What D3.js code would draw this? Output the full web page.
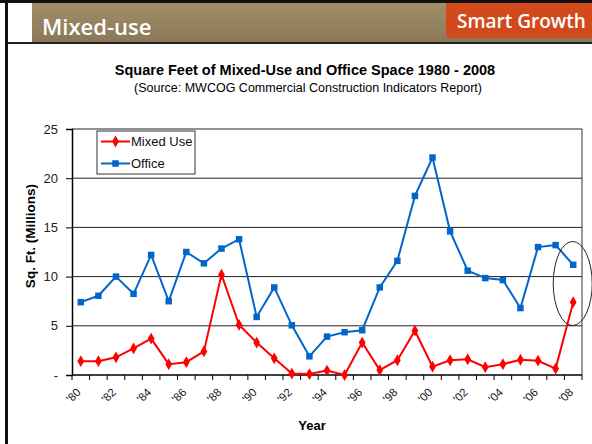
<!DOCTYPE html>
<html>
<head>
<meta charset="utf-8">
<script src="https://cdn.jsdelivr.net/npm/d3@7"></script>
<style>
  body { margin: 0; background: #fff; }
  svg { display: block; }
</style>
</head>
<body>
<svg id="chart" width="592" height="444"></svg>
<script>
// Years 1980 - 2008
const years = d3.range(1980, 2009);
const yTicks = [0, 5, 10, 15, 20, 25];

// Square feet (millions)
const mixedUse = [1.4, 1.4, 1.8, 2.7, 3.7, 1.1, 1.3, 2.4, 10.2, 5.1, 3.3, 1.7, 0.15, 0.1,
  0.45, 0.0, 3.3, 0.5, 1.5, 4.5, 0.85, 1.5, 1.6, 0.8, 1.1, 1.55, 1.45, 0.65, 7.4];
const office = [7.4, 8.05, 10.0, 8.25, 12.2, 7.5, 12.5, 11.35, 12.85, 13.8, 5.9, 8.9, 5.05, 1.9,
  3.9, 4.35, 4.55, 8.9, 11.6, 18.2, 22.1, 14.6, 10.6, 9.85, 9.65, 6.8, 13.0, 13.2, 11.2];

const series = [
  { name: "Mixed Use", values: mixedUse, color: "#ff0000", marker: "diamond" },
  { name: "Office", values: office, color: "#0066cc", marker: "square" }
];

const FONT = "Arial, Liberation Sans, sans-serif";
const svg = d3.select("#chart");

// --- slide header ---
const defs = svg.append("defs");
const grad = defs.append("linearGradient").attr("id", "hdr").attr("x1", 0).attr("y1", 0).attr("x2", 0).attr("y2", 1);
grad.append("stop").attr("offset", "0%").attr("stop-color", "#a18e69");
grad.append("stop").attr("offset", "100%").attr("stop-color", "#8a7757");

svg.append("rect").attr("x", 0).attr("y", 0).attr("width", 592).attr("height", 3).attr("fill", "#111");
svg.append("rect").attr("x", 32).attr("y", 3).attr("width", 560).attr("height", 40).attr("fill", "url(#hdr)");
svg.append("rect").attr("x", 5).attr("y", 42).attr("width", 587).attr("height", 2).attr("fill", "#222");
svg.append("rect").attr("x", 5).attr("y", 0).attr("width", 3).attr("height", 444).attr("fill", "#111");

svg.append("text").attr("x", 42).attr("y", 35)
  .attr("font-family", "Open Sans, sans-serif").attr("font-size", 22).attr("font-weight", 600)
  .attr("fill", "#fff").text("Mixed-use");

svg.append("path")
  .attr("d", "M446,3 H592 V38 H451 Q446,38 446,33 Z")
  .attr("fill", "#d24a1c");
svg.append("text").attr("x", 457).attr("y", 28)
  .attr("font-family", "Open Sans, sans-serif").attr("font-size", 19).attr("font-weight", 600)
  .attr("fill", "#fff").text("Smart Growth");

// --- titles ---
svg.append("text").attr("x", 305).attr("y", 75).attr("text-anchor", "middle")
  .attr("font-family", FONT).attr("font-size", 14.5).attr("font-weight", "bold")
  .text("Square Feet of Mixed-Use and Office Space 1980 - 2008");
svg.append("text").attr("x", 308).attr("y", 92).attr("text-anchor", "middle")
  .attr("font-family", FONT).attr("font-size", 12.5)
  .text("(Source: MWCOG Commercial Construction Indicators Report)");

// --- plot area ---
const pLeft = 72, pRight = 582, pTop = 129, pBottom = 375;

const x = d3.scaleBand().domain(years).range([pLeft, pRight]);
const y = d3.scaleLinear().domain([0, 25]).range([pBottom, pTop]);

// gridlines
svg.append("g").selectAll("line").data(yTicks.filter(d => d > 0)).enter().append("line")
  .attr("x1", pLeft).attr("x2", pRight)
  .attr("y1", d => y(d)).attr("y2", d => y(d))
  .attr("stroke", "#222").attr("stroke-width", 1);
svg.append("line").attr("x1", pRight).attr("x2", pRight).attr("y1", pTop).attr("y2", pBottom)
  .attr("stroke", "#333").attr("stroke-width", 1);

// y axis
const yAxis = svg.append("g").attr("transform", `translate(${pLeft},0)`)
  .call(d3.axisLeft(y).tickValues(yTicks).tickSize(6).tickPadding(8)
    .tickFormat(d => d === 0 ? "-" : d));
yAxis.select(".domain").attr("stroke", "#000").attr("stroke-width", 1.5);
yAxis.selectAll("text").attr("font-family", FONT).attr("font-size", 13).attr("fill", "#222");

// x axis: tick marks at band edges, labels on even years
const edges = years.map(d => x(d)).concat([pRight]);
const xg = svg.append("g");
xg.append("line").attr("x1", pLeft).attr("x2", pRight).attr("y1", pBottom).attr("y2", pBottom)
  .attr("stroke", "#000").attr("stroke-width", 1.5);
xg.selectAll("line.tk").data(edges).enter().append("line").attr("class", "tk")
  .attr("x1", d => d).attr("x2", d => d).attr("y1", pBottom).attr("y2", pBottom + 5)
  .attr("stroke", "#000");
xg.selectAll("text").data(years.filter(d => d % 2 === 0)).enter().append("text")
  .attr("transform", d => `translate(${x(d) + x.bandwidth() / 2 - 2},${pBottom + 15}) rotate(-45)`)
  .attr("text-anchor", "end").attr("dy", "0.35em")
  .attr("font-family", FONT).attr("font-size", 11.5).attr("fill", "#222")
  .text(d => "'" + String(d).slice(2));

// axis titles
svg.append("text").attr("x", 312).attr("y", 430).attr("text-anchor", "middle")
  .attr("font-family", FONT).attr("font-size", 13).attr("font-weight", "bold")
  .text("Year");
svg.append("text").attr("transform", "translate(35,236) rotate(-90)").attr("text-anchor", "middle")
  .attr("font-family", FONT).attr("font-size", 13.5).attr("font-weight", "bold")
  .text("Sq. Ft. (Millions)");

// lines and markers
const line = d3.line().x((d, i) => x(years[i]) + x.bandwidth() / 2).y(d => y(d));
const symbolOf = m => m === "diamond" ? d3.symbolDiamond : d3.symbolSquare;

series.forEach(s => {
  svg.append("path").datum(s.values).attr("d", line)
    .attr("fill", "none").attr("stroke", s.color).attr("stroke-width", 2);
  svg.append("g").selectAll("path").data(s.values).enter().append("path")
    .attr("transform", (d, i) => `translate(${x(years[i]) + x.bandwidth() / 2},${y(d)})`)
    .attr("d", d3.symbol().type(symbolOf(s.marker)).size(s.marker === "diamond" ? 40 : 42))
    .attr("fill", s.color);
});

// legend
const lg = svg.append("g");
lg.append("rect").attr("x", 97).attr("y", 131).attr("width", 98).attr("height", 43)
  .attr("fill", "#fff").attr("stroke", "#333").attr("stroke-width", 1);
series.forEach((s, i) => {
  const ly = 141.5 + i * 22;
  lg.append("line").attr("x1", 101).attr("x2", 130).attr("y1", ly).attr("y2", ly)
    .attr("stroke", s.color).attr("stroke-width", 2);
  lg.append("path").attr("transform", `translate(115.5,${ly})`)
    .attr("d", d3.symbol().type(symbolOf(s.marker)).size(s.marker === "diamond" ? 40 : 42))
    .attr("fill", s.color);
  lg.append("text").attr("x", 131).attr("y", ly).attr("dy", "0.35em")
    .attr("font-family", FONT).attr("font-size", 13).attr("fill", "#111")
    .text(s.name);
});

// highlight ellipse around 2008
svg.append("ellipse")
  .attr("cx", x(2008) + x.bandwidth() / 2 - 0.5).attr("cy", y(9.3))
  .attr("rx", 19.5).attr("ry", 42)
  .attr("fill", "none").attr("stroke", "#222").attr("stroke-width", 1);
</script>
</body>
</html>
